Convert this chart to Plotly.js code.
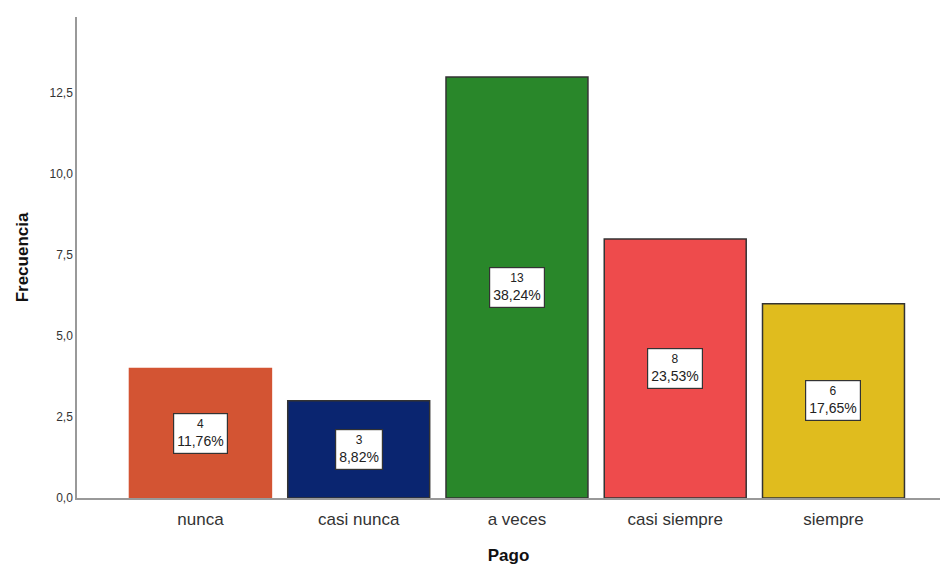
<!DOCTYPE html>
<html><head><meta charset="utf-8">
<script src="https://cdn.plot.ly/plotly-3.0.1.min.js"></script>
<style>body{margin:0;background:#fff}#c{width:945px;height:567px}</style>
</head><body><div id="c"></div>
<script>
const categories = ["nunca", "casi nunca", "a veces", "casi siempre", "siempre"];
const counts = [4, 3, 13, 8, 6];
const percents = ["11,76%", "8,82%", "38,24%", "23,53%", "17,65%"];
const barColors = ["#D35433", "#0A2570", "#29872A", "#EE4B4C", "#E0BC1E"];
const lineColors = ["#D35433", "#333333", "#333333", "#333333", "#333333"];

const trace = {
  type: "bar", x: categories, y: counts,
  marker: {color: barColors, line: {color: lineColors, width: 1.5}},
  hoverinfo: "skip"
};
const annotations = categories.map((c, i) => ({
  x: c, y: counts[i] / 2, xref: "x", yref: "y",
  text: "<span style='font-size:12px'>" + counts[i] + "</span><br>" + percents[i], showarrow: false,
  bgcolor: "#fff", bordercolor: "#333", borderwidth: 1.2, borderpad: 3,
  font: {family: "Arial, Liberation Sans, sans-serif", size: 14, color: "#222"}
}));
const layout = {
  width: 945, height: 567, separators: ",.",
  margin: {l: 77, r: 5, t: 17, b: 69},
  paper_bgcolor: "#fff", plot_bgcolor: "#fff",
  bargap: 0.103, showlegend: false,
  font: {family: "Arial, Liberation Sans, sans-serif", color: "#333"},
  xaxis: {range: [-0.78, 4.673], showline: true, linecolor: "#999", linewidth: 1.5,
    ticks: "", ticklabelstandoff: 5, showgrid: false, zeroline: false, tickfont: {size: 17, color: "#333"},
    title: {text: "<b>Pago</b>", font: {size: 17, color: "#111"}, standoff: 21}},
  yaxis: {range: [0, 14.85], showline: true, linecolor: "#999", linewidth: 1.5,
    ticks: "", showgrid: false, zeroline: false, tickvals: [0, 2.5, 5, 7.5, 10, 12.5],
    tickformat: ".1f", tickfont: {size: 12, color: "#333"},
    title: {text: "<b>Frecuencia</b>", font: {size: 17, color: "#111"}, standoff: 17}},
  annotations: annotations
};
Plotly.newPlot("c", [trace], layout, {displayModeBar: false});
</script></body></html>
